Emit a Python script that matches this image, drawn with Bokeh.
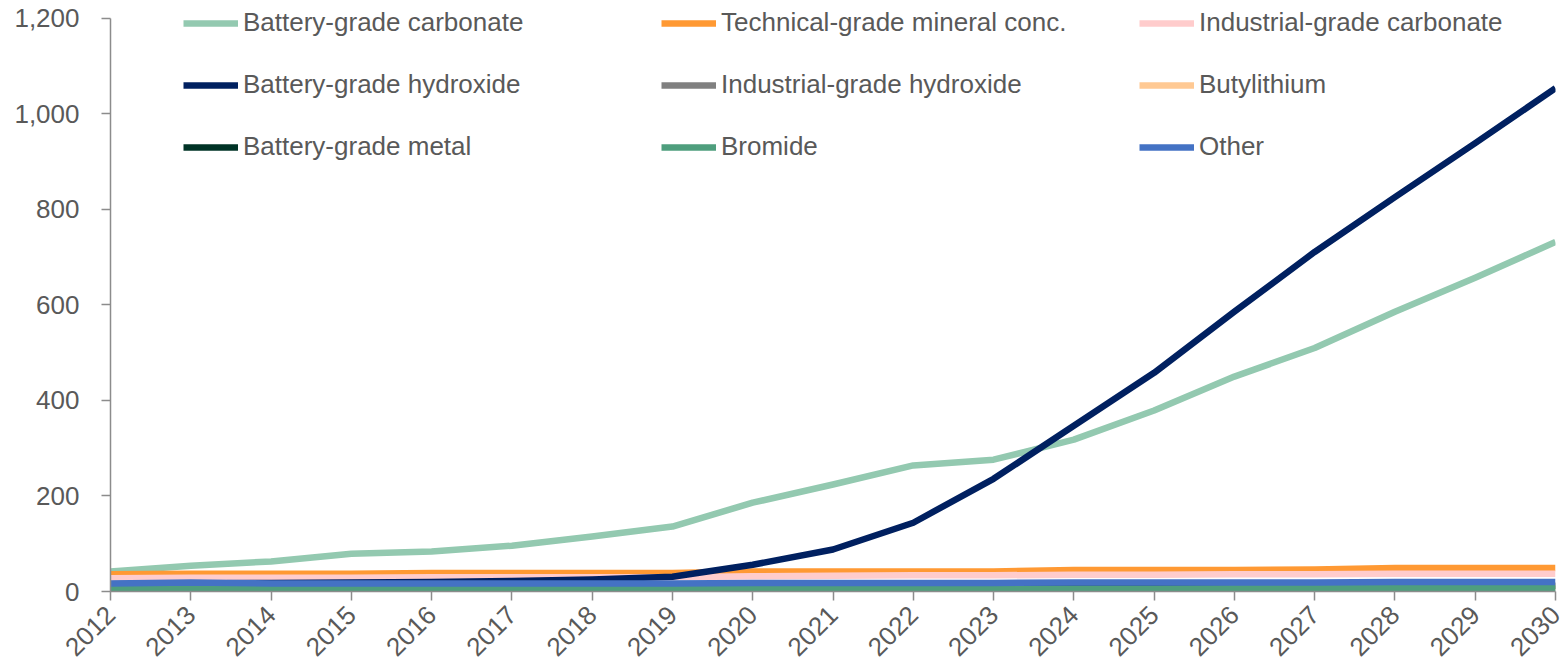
from math import pi

from bokeh.embed import file_html
from bokeh.models import FixedTicker, Legend, LegendItem, NumeralTickFormatter, Range1d
from bokeh.plotting import figure
from bokeh.resources import INLINE

# Lithium demand by product, kt LCE
years = list(range(2012, 2031))

battery_carbonate = [42, 54, 63, 79, 84, 96, 115, 136, 186, 224, 264, 276, 318, 379, 450, 510, 586, 657, 732]
technical_conc = [36, 37, 37, 37, 39, 39, 39, 39, 42, 42, 42, 42, 45, 45, 45, 46, 49, 49, 49]
industrial_carbonate = [28, 29, 29, 29, 30, 30, 30, 30, 32, 33, 34, 34, 35, 35, 36, 36, 37, 37, 37]
battery_hydroxide = [15, 17, 18, 19, 20, 22, 25, 31, 56, 88, 144, 236, 347, 458, 586, 711, 826, 939, 1054]
industrial_hydroxide = [5, 5, 5, 5, 5, 5, 5, 5, 5, 5, 5, 5, 5, 5, 5, 5, 5, 5, 5]
butyllithium = [10, 11, 10, 10, 10, 10, 10, 10, 10, 10, 10, 10, 10, 10, 10, 10, 10, 10, 10]
battery_metal = [1, 1, 1, 1, 2, 2, 3, 5, 7, 9, 10, 11, 11, 11, 12, 12, 12, 12, 12]
bromide = [6, 6, 6, 6, 6, 6, 6, 6, 6, 6, 6, 6, 6, 6, 7, 7, 7, 7, 7]
other = [17, 19, 17, 17, 17, 17, 17, 17, 18, 18, 18, 18, 19, 19, 19, 19, 20, 20, 20]

series = [
    ("Battery-grade carbonate", battery_carbonate, "#93C9B0"),
    ("Technical-grade mineral conc.", technical_conc, "#FF9933"),
    ("Industrial-grade carbonate", industrial_carbonate, "#FFCCCC"),
    ("Battery-grade hydroxide", battery_hydroxide, "#002060"),
    ("Industrial-grade hydroxide", industrial_hydroxide, "#808080"),
    ("Butylithium", butyllithium, "#FFC993"),
    ("Battery-grade metal", battery_metal, "#003326"),
    ("Bromide", bromide, "#4E9E7D"),
    ("Other", other, "#4472C4"),
]

FONT = "Liberation Sans"
TEXT = "#595959"
AXIS = "#8C8C8C"
Y_MAX = 1200
# headroom above the top tick so the legend has space inside the frame
Y_TOP = Y_MAX + 18 * Y_MAX / 574

p = figure(
    width=1566,
    height=667,
    output_backend="svg",
    toolbar_location=None,
    x_range=Range1d(2012, 2030),
    y_range=Range1d(0, Y_TOP),
    min_border_left=110,
    min_border_right=11,
    min_border_top=0,
    min_border_bottom=75,
)
p.outline_line_color = None
p.xgrid.visible = False
p.ygrid.visible = False
p.background_fill_color = "white"
p.border_fill_color = "white"

renderers = {}
for name, vals, color in series:
    renderers[name] = p.line(years, vals, line_color=color, line_width=6.5,
                             line_join="round", line_cap="butt")

# legend, three columns of three entries
columns = [
    ["Battery-grade carbonate", "Battery-grade hydroxide", "Battery-grade metal"],
    ["Technical-grade mineral conc.", "Industrial-grade hydroxide", "Bromide"],
    ["Industrial-grade carbonate", "Butylithium", "Other"],
]
col_x = [73, 551, 1029]
for cx, names in zip(col_x, columns):
    leg = Legend(
        items=[LegendItem(label=n, renderers=[renderers[n]]) for n in names],
        location=(cx, 429),
        orientation="vertical",
        padding=0,
        margin=0,
        spacing=31,
        glyph_width=55,
        glyph_height=30,
        label_height=30,
        label_standoff=5,
        label_text_font=FONT,
        label_text_font_size="26px",
        label_text_color=TEXT,
        border_line_alpha=0,
        background_fill_alpha=0,
    )
    p.add_layout(leg, "center")

# axes
p.yaxis.ticker = FixedTicker(ticks=[0, 200, 400, 600, 800, 1000, 1200])
p.yaxis.formatter = NumeralTickFormatter(format="0,0")
p.yaxis.bounds = (0, Y_MAX)
p.xaxis.ticker = FixedTicker(ticks=years)
p.xaxis.major_label_orientation = pi / 4

for ax in (p.xaxis, p.yaxis):
    ax.axis_line_color = AXIS
    ax.axis_line_width = 1.5
    ax.major_tick_line_color = AXIS
    ax.major_tick_line_width = 1.5
    ax.minor_tick_line_color = None
    ax.major_tick_in = 0
    ax.major_label_text_font = FONT
    ax.major_label_text_font_size = "26px"
    ax.major_label_text_color = TEXT

p.yaxis.major_tick_out = 9
p.yaxis.major_label_standoff = 22
p.xaxis.major_tick_out = 9
p.xaxis.major_label_standoff = 10

open("out.html", "w").write(file_html(p, INLINE))
